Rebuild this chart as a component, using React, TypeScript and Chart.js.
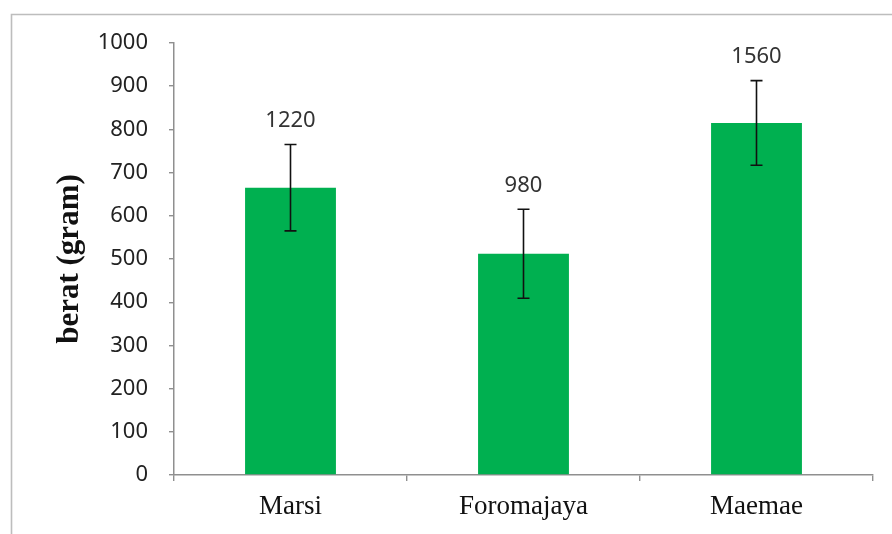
import React, { useEffect, useRef } from "react";
import { Chart, registerables } from "chart.js";

Chart.register(...registerables);

const categories = ["Marsi", "Foromajaya", "Maemae"];
const meanWeights = [665, 512, 815];
const errorMargins = [100, 103, 98];
const labelTexts = ["1220", "980", "1560"];
const yMin = 0;
const yMax = 1000;
const yStep = 100;

const framePlugin = {
  id: "frame",
  beforeDraw(chart: any) {
    const { ctx, width, height } = chart;
    ctx.save();
    ctx.fillStyle = "#ffffff";
    ctx.fillRect(0, 0, width, height);
    ctx.strokeStyle = "#bdbdbd";
    ctx.lineWidth = 1.6;
    ctx.beginPath();
    ctx.moveTo(11.5, height);
    ctx.lineTo(11.5, 14.5);
    ctx.lineTo(width, 14.5);
    ctx.stroke();
    ctx.restore();
  },
};

const errorBarPlugin = {
  id: "errorBars",
  afterDatasetsDraw(chart: any) {
    const { ctx } = chart;
    const yScale = chart.scales.y;
    const meta = chart.getDatasetMeta(0);
    ctx.save();
    ctx.strokeStyle = "#111111";
    ctx.lineWidth = 1.6;
    meta.data.forEach((bar: any, i: number) => {
      const v = meanWeights[i];
      const e = errorMargins[i];
      const x = bar.x;
      const yTop = yScale.getPixelForValue(v + e);
      const yBot = yScale.getPixelForValue(v - e);
      const cap = 6;
      ctx.beginPath();
      ctx.moveTo(x, yTop);
      ctx.lineTo(x, yBot);
      ctx.moveTo(x - cap, yTop);
      ctx.lineTo(x + cap, yTop);
      ctx.moveTo(x - cap, yBot);
      ctx.lineTo(x + cap, yBot);
      ctx.stroke();
    });
    ctx.restore();
  },
};

const labelPlugin = {
  id: "barLabels",
  afterDatasetsDraw(chart: any) {
    const { ctx } = chart;
    const yScale = chart.scales.y;
    const meta = chart.getDatasetMeta(0);
    ctx.save();
    ctx.fillStyle = "#333333";
    ctx.font = "22px 'Noto Sans'";
    ctx.textAlign = "center";
    ctx.textBaseline = "middle";
    meta.data.forEach((bar: any, i: number) => {
      const yTop = yScale.getPixelForValue(meanWeights[i] + errorMargins[i]);
      ctx.fillText(labelTexts[i], bar.x, yTop - 24);
    });
    ctx.restore();
  },
};

export default function App() {
  const canvasRef = useRef<HTMLCanvasElement | null>(null);

  useEffect(() => {
    if (!canvasRef.current) return;
    const chart = new Chart(canvasRef.current, {
      type: "bar",
      data: {
        labels: categories,
        datasets: [
          {
            data: meanWeights,
            backgroundColor: "#00b050",
            borderWidth: 0,
            categoryPercentage: 1,
            barPercentage: 0.39,
          },
        ],
      },
      options: {
        animation: false,
        responsive: false,
        maintainAspectRatio: false,
        layout: { padding: { left: 0, right: 19, top: 43, bottom: 0 } },
        plugins: {
          legend: { display: false },
          tooltip: { enabled: false },
        },
        scales: {
          x: {
            grid: {
              display: true,
              drawOnChartArea: false,
              drawTicks: true,
              tickLength: 6,
              color: "#8f8f8f",
              lineWidth: 1.4,
            },
            border: { display: true, color: "#8f8f8f", width: 1.5 },
            ticks: {
              color: "#111111",
              padding: 10,
              font: { family: "'Liberation Serif', 'Times New Roman', serif", size: 27 },
            },
            afterFit(scale: any) {
              scale.height = 59;
            },
          },
          y: {
            min: yMin,
            max: yMax,
            ticks: {
              stepSize: yStep,
              color: "#222222",
              padding: 21,
              font: { family: "'Noto Sans'", size: 22 },
              callback: (value: any) => String(value),
            },
            grid: {
              display: true,
              drawOnChartArea: false,
              drawTicks: true,
              tickLength: 5,
              color: "#8f8f8f",
              lineWidth: 1.4,
            },
            border: { display: true, color: "#8f8f8f", width: 1.5 },
            title: {
              display: true,
              text: "berat (gram)",
              color: "#111111",
              font: { family: "'Liberation Serif', 'Times New Roman', serif", size: 31, weight: "bold", lineHeight: 1 },
              padding: { top: 54, bottom: 0 },
            },
            afterFit(scale: any) {
              scale.width = 174;
            },
          },
        },
      },
      plugins: [framePlugin, errorBarPlugin, labelPlugin],
    });
    return () => chart.destroy();
  }, []);

  return (
    <div style={{ position: "absolute", left: 0, top: 0, width: 892, height: 534 }}>
      <canvas ref={canvasRef} width={892} height={534} />
    </div>
  );
}
